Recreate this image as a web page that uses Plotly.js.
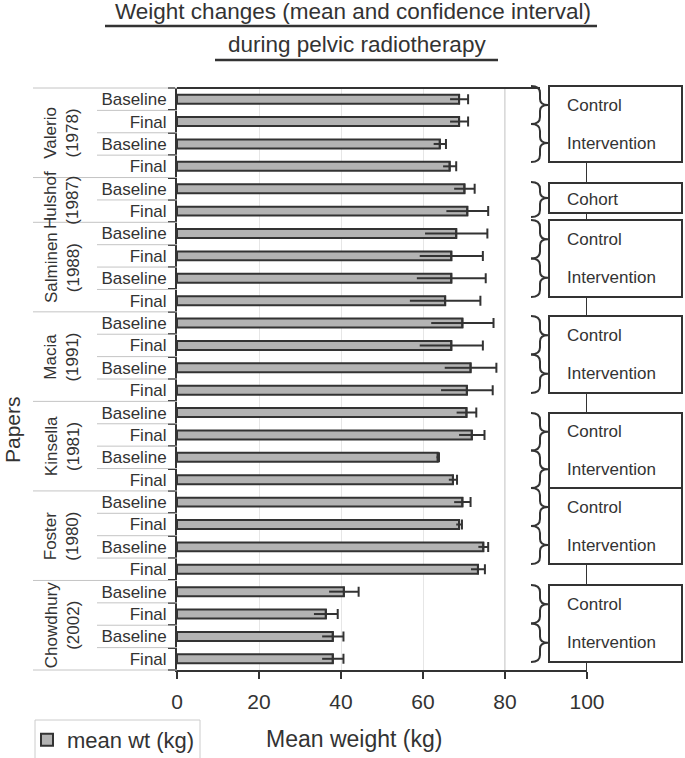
<!DOCTYPE html>
<html>
<head>
<meta charset="utf-8">
<script src="https://cdn.plot.ly/plotly-3.0.1.min.js"></script>
<style>html,body{margin:0;padding:0;background:#fff}#chart{width:685px;height:758px}</style>
</head>
<body>
<div id="chart"></div>
<script>
// ---------------- data ----------------
const papers = ["Valerio (1978)","Valerio (1978)","Valerio (1978)","Valerio (1978)",
  "Hulshof (1987)","Hulshof (1987)",
  "Salminen (1988)","Salminen (1988)","Salminen (1988)","Salminen (1988)",
  "Macia (1991)","Macia (1991)","Macia (1991)","Macia (1991)",
  "Kinsella (1981)","Kinsella (1981)","Kinsella (1981)","Kinsella (1981)",
  "Foster (1980)","Foster (1980)","Foster (1980)","Foster (1980)",
  "Chowdhury (2002)","Chowdhury (2002)","Chowdhury (2002)","Chowdhury (2002)"];
const arms = ["Control","Control","Intervention","Intervention",
  "Cohort","Cohort",
  "Control","Control","Intervention","Intervention",
  "Control","Control","Intervention","Intervention",
  "Control","Control","Intervention","Intervention",
  "Control","Control","Intervention","Intervention",
  "Control","Control","Intervention","Intervention"];
const timepoints = ["Baseline","Final","Baseline","Final",
  "Baseline","Final",
  "Baseline","Final","Baseline","Final",
  "Baseline","Final","Baseline","Final",
  "Baseline","Final","Baseline","Final",
  "Baseline","Final","Baseline","Final",
  "Baseline","Final","Baseline","Final"];
const meanWt = [68.8,68.8,64.1,66.5,
  70.1,70.8,
  68.1,66.9,66.9,65.4,
  69.6,66.9,71.6,70.7,
  70.6,71.9,63.6,67.3,
  69.6,68.8,74.7,73.4,
  40.7,36.3,38.0,38.0];
const ciHalf = [2.2,2.2,1.5,1.6,
  2.5,5.1,
  7.6,7.7,8.4,8.6,
  7.6,7.7,6.3,6.3,
  2.4,3.1,0.3,1.0,
  2.0,0.7,1.2,1.7,
  3.6,2.9,2.6,2.6];
const xTicks = [0,20,40,60,80,100];

// ---------------- layout helpers ----------------
const FONT = 'Liberation Sans, Arial, Helvetica, sans-serif';
const INK = '#333333';
const W = 685, H = 758, ML = 177, MR = 98, MT = 88, MB = 88;
const PW = W - ML - MR, PH = H - MT - MB;
const px = v => (v - ML) / PW;
const py = v => (H - MB - v) / PH;

const ids = papers.map((p, i) => p + '|' + arms[i] + '|' + timepoints[i]);
const zeros = ciHalf.map(() => 0);
const N = ids.length;

const traces = [
  {
    type: 'bar', orientation: 'h', name: 'mean wt (kg)',
    x: meanWt, y: ids,
    marker: {color: '#b3b3b3', line: {color: INK, width: 2}},
    error_x: {type: 'data', symmetric: false, array: ciHalf, arrayminus: zeros,
              color: INK, thickness: 2, width: 5},
    hoverinfo: 'x+y', showlegend: true
  },
  {
    type: 'scatter', mode: 'markers', x: meanWt, y: ids,
    marker: {opacity: 0, size: 1},
    error_x: {type: 'data', symmetric: false, array: zeros, arrayminus: ciHalf,
              color: INK, thickness: 2, width: 0},
    showlegend: false, hoverinfo: 'skip'
  }
];

const shapes = [];
const annotations = [];

// left hierarchical separators
for (let k = 0; k <= N; k++) {
  const groupEdge = (k === 0 || k === N || papers[k] !== papers[k - 1]);
  shapes.push({type: 'line', xref: 'paper', yref: 'paper',
    x0: groupEdge ? px(33) : px(97), x1: 0, y0: 1 - k / N, y1: 1 - k / N,
    line: {color: '#c4c4c4', width: 1}});
}
// group labels
const groups = [];
papers.forEach((p, i) => {
  if (!groups.length || groups[groups.length - 1].name !== p) groups.push({name: p, start: i, end: i});
  else groups[groups.length - 1].end = i;
});
groups.forEach(g => {
  const parts = g.name.split(' ');
  annotations.push({xref: 'paper', yref: 'paper', x: px(62), y: 1 - (g.start + g.end + 1) / 2 / N,
    text: parts[0] + '<br>' + parts[1], textangle: -90, showarrow: false,
    xanchor: 'center', yanchor: 'middle', font: {family: FONT, size: 17, color: INK}});
});

// top border line of plot
shapes.push({type: 'line', xref: 'paper', yref: 'paper', x0: 0, x1: px(540), y0: 1, y1: 1,
  line: {color: INK, width: 2}});
// darker 80 gridline
shapes.push({type: 'line', xref: 'x', yref: 'paper', x0: 80, x1: 80, y0: 0, y1: 1,
  line: {color: '#b5b5b5', width: 1}, layer: 'below'});
// connector line at 100
shapes.push({type: 'line', xref: 'x', yref: 'paper', x0: 100, x1: 100, y0: 0, y1: 1,
  line: {color: INK, width: 2}});

// study design boxes & braces
const boxTop = [86, 183, 220, 316, 413, 488, 585];
const boxBot = [162, 213, 297, 393, 488, 564, 662];
function bracePath(t, tip, b) {
  const xl = 531, xv = 540, xt = 548;
  const pts = [
    ['M', xl, t], ['Q', xv, t, xv, t + 7], ['L', xv, tip - 6],
    ['Q', xv, tip, xt, tip], ['Q', xv, tip, xv, tip + 6], ['L', xv, b - 7],
    ['Q', xv, b, xl, b]
  ];
  return pts.map(p => {
    let s = p[0];
    for (let i = 1; i < p.length; i += 2) s += (i > 1 ? ' ' : '') + px(p[i]).toFixed(5) + ',' + py(p[i + 1]).toFixed(5);
    return s;
  }).join(' ');
}
groups.forEach((g, gi) => {
  const t = boxTop[gi], b = boxBot[gi];
  shapes.push({type: 'rect', xref: 'paper', yref: 'paper', x0: px(549), x1: px(682), y0: py(b), y1: py(t),
    fillcolor: '#ffffff', line: {color: INK, width: 2}});
  const armList = [];
  for (let i = g.start; i <= g.end; i++) if (!armList.includes(arms[i])) armList.push(arms[i]);
  if (armList.length === 1) {
    const tip = (t + b) / 2;
    shapes.push({type: 'path', xref: 'paper', yref: 'paper', path: bracePath(t - 1, tip, b + 4), line: {color: INK, width: 2}});
    annotations.push({xref: 'paper', yref: 'paper', x: px(565), y: py(tip + 1), text: armList[0], showarrow: false,
      xanchor: 'left', yanchor: 'middle', font: {family: FONT, size: 17, color: INK}});
  } else {
    const mid = (t + b) / 2;
    [[t, mid], [mid, b]].forEach((seg, si) => {
      const tip = (seg[0] + seg[1]) / 2;
      shapes.push({type: 'path', xref: 'paper', yref: 'paper', path: bracePath(seg[0], tip, seg[1]), line: {color: INK, width: 2}});
      annotations.push({xref: 'paper', yref: 'paper', x: px(565), y: py(tip), text: armList[si], showarrow: false,
        xanchor: 'left', yanchor: 'middle', font: {family: FONT, size: 17, color: INK}});
    });
  }
});

// title
annotations.push({xref: 'paper', yref: 'paper', x: px(353), y: py(11), text: 'Weight changes (mean and confidence interval)',
  showarrow: false, xanchor: 'center', yanchor: 'middle', font: {family: FONT, size: 22.5, color: INK}});
annotations.push({xref: 'paper', yref: 'paper', x: px(357), y: py(44), text: 'during pelvic radiotherapy',
  showarrow: false, xanchor: 'center', yanchor: 'middle', font: {family: FONT, size: 22.5, color: INK}});
shapes.push({type: 'line', xref: 'paper', yref: 'paper', x0: px(105), x1: px(597), y0: py(26), y1: py(26), line: {color: INK, width: 2.5}});
shapes.push({type: 'line', xref: 'paper', yref: 'paper', x0: px(215), x1: px(498), y0: py(60), y1: py(60), line: {color: INK, width: 2.5}});

// axis titles
annotations.push({xref: 'paper', yref: 'paper', x: px(12), y: py(430), text: 'Papers', textangle: -90,
  showarrow: false, xanchor: 'center', yanchor: 'middle', font: {family: FONT, size: 21, color: INK}});
annotations.push({xref: 'paper', yref: 'paper', x: px(354), y: py(739), text: 'Mean weight (kg)',
  showarrow: false, xanchor: 'center', yanchor: 'middle', font: {family: FONT, size: 23, color: INK}});

// legend frame
shapes.push({type: 'rect', xref: 'paper', yref: 'paper', x0: px(35), x1: px(200), y0: py(762), y1: py(720),
  line: {color: '#cccccc', width: 1}, fillcolor: 'rgba(0,0,0,0)'});

const layout = {
  width: W, height: H,
  margin: {l: ML, r: MR, t: MT, b: MB, autoexpand: false},
  paper_bgcolor: '#ffffff', plot_bgcolor: '#ffffff',
  font: {family: FONT, color: INK},
  bargap: 0.6,
  showlegend: true,
  legend: {x: px(27), y: py(740), xanchor: 'left', yanchor: 'middle', borderwidth: 0,
           bgcolor: 'rgba(0,0,0,0)', font: {family: FONT, size: 22, color: INK}},
  xaxis: {range: [0, 100], tickmode: 'array', tickvals: xTicks, ticktext: xTicks.map(String),
          ticks: 'outside', ticklen: 7, tickwidth: 2, tickcolor: INK,
          showline: true, linecolor: INK, linewidth: 2, showgrid: true, gridcolor: '#e6e6e6', gridwidth: 1,
          zeroline: false, ticklabelstandoff: 5, automargin: false, fixedrange: true,
          tickfont: {family: FONT, size: 21, color: INK}},
  yaxis: {type: 'category', categoryorder: 'array', categoryarray: ids,
          autorange: false, range: [N - 0.5, -0.5],
          tickmode: 'array', tickvals: ids, ticktext: timepoints, tickson: 'boundaries',
          ticks: 'outside', ticklen: 7, tickwidth: 2, tickcolor: INK,
          showline: true, linecolor: INK, linewidth: 2, showgrid: false, zeroline: false,
          ticklabelstandoff: 5, automargin: false, fixedrange: true,
          tickfont: {family: FONT, size: 17, color: INK}},
  shapes: shapes,
  annotations: annotations
};

Plotly.newPlot('chart', traces, layout, {displayModeBar: false, staticPlot: true});
</script>
</body>
</html>
